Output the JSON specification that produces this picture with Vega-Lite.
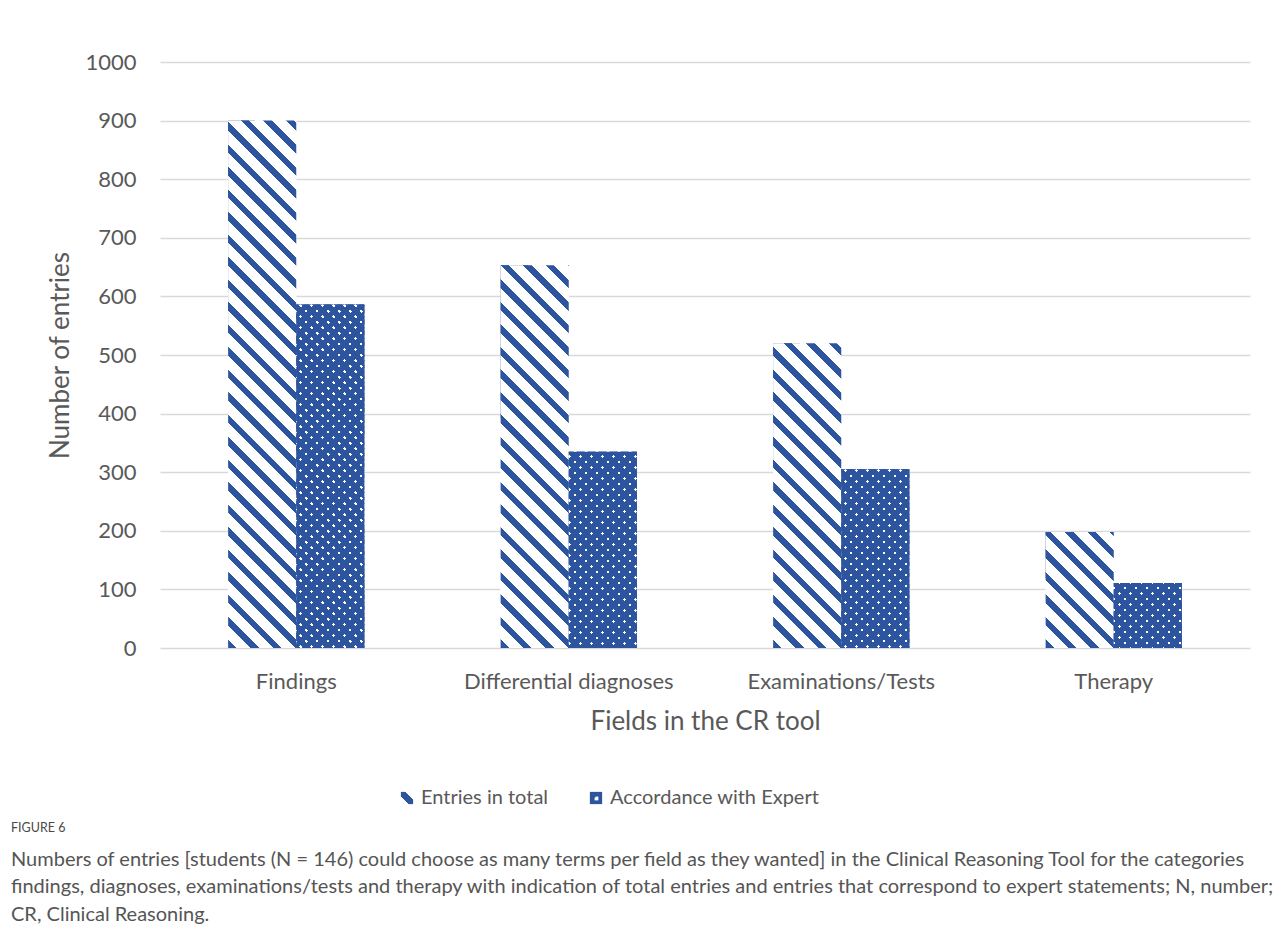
{
  "$schema": "https://vega.github.io/schema/vega-lite/v6.json",
  "width": 1090,
  "height": 586,
  "autosize": {"type": "none"},
  "padding": {"left": 160, "top": 62, "right": 32, "bottom": 293},
  "background": "white",
  "params": [
    {"name": "legendStripe", "value": {"gradient": "linear", "x1": 0, "y1": 1, "x2": 1, "y2": 0, "stops": [
      {"offset": 0, "color": "#fff"}, {"offset": 0.3, "color": "#fff"},
      {"offset": 0.3, "color": "#2d559f"}, {"offset": 0.7, "color": "#2d559f"},
      {"offset": 0.7, "color": "#fff"}, {"offset": 1, "color": "#fff"}
    ]}},
    {"name": "legendDot", "value": {"gradient": "radial", "x1": 0.55, "y1": 0.55, "x2": 0.55, "y2": 0.55, "r1": 0, "r2": 0.5, "stops": [
      {"offset": 0, "color": "#fff"}, {"offset": 0.35, "color": "#fff"},
      {"offset": 0.35, "color": "#2d559f"}, {"offset": 1, "color": "#2d559f"}
    ]}},
    {"name": "stripeStops", "value": [
      {"offset":0,"color":"#2d559f"},{"offset":0.0141,"color":"#2d559f"},{"offset":0.0141,"color":"#fff"},{"offset":0.037,"color":"#fff"},
      {"offset":0.037,"color":"#2d559f"},{"offset":0.0511,"color":"#2d559f"},{"offset":0.0511,"color":"#fff"},{"offset":0.0741,"color":"#fff"},
      {"offset":0.0741,"color":"#2d559f"},{"offset":0.0881,"color":"#2d559f"},{"offset":0.0881,"color":"#fff"},{"offset":0.1111,"color":"#fff"},
      {"offset":0.1111,"color":"#2d559f"},{"offset":0.1252,"color":"#2d559f"},{"offset":0.1252,"color":"#fff"},{"offset":0.1481,"color":"#fff"},
      {"offset":0.1481,"color":"#2d559f"},{"offset":0.1622,"color":"#2d559f"},{"offset":0.1622,"color":"#fff"},{"offset":0.1852,"color":"#fff"},
      {"offset":0.1852,"color":"#2d559f"},{"offset":0.1993,"color":"#2d559f"},{"offset":0.1993,"color":"#fff"},{"offset":0.2222,"color":"#fff"},
      {"offset":0.2222,"color":"#2d559f"},{"offset":0.2363,"color":"#2d559f"},{"offset":0.2363,"color":"#fff"},{"offset":0.2593,"color":"#fff"},
      {"offset":0.2593,"color":"#2d559f"},{"offset":0.2733,"color":"#2d559f"},{"offset":0.2733,"color":"#fff"},{"offset":0.2963,"color":"#fff"},
      {"offset":0.2963,"color":"#2d559f"},{"offset":0.3104,"color":"#2d559f"},{"offset":0.3104,"color":"#fff"},{"offset":0.3333,"color":"#fff"},
      {"offset":0.3333,"color":"#2d559f"},{"offset":0.3474,"color":"#2d559f"},{"offset":0.3474,"color":"#fff"},{"offset":0.3704,"color":"#fff"},
      {"offset":0.3704,"color":"#2d559f"},{"offset":0.3844,"color":"#2d559f"},{"offset":0.3844,"color":"#fff"},{"offset":0.4074,"color":"#fff"},
      {"offset":0.4074,"color":"#2d559f"},{"offset":0.4215,"color":"#2d559f"},{"offset":0.4215,"color":"#fff"},{"offset":0.4444,"color":"#fff"},
      {"offset":0.4444,"color":"#2d559f"},{"offset":0.4585,"color":"#2d559f"},{"offset":0.4585,"color":"#fff"},{"offset":0.4815,"color":"#fff"},
      {"offset":0.4815,"color":"#2d559f"},{"offset":0.4956,"color":"#2d559f"},{"offset":0.4956,"color":"#fff"},{"offset":0.5185,"color":"#fff"},
      {"offset":0.5185,"color":"#2d559f"},{"offset":0.5326,"color":"#2d559f"},{"offset":0.5326,"color":"#fff"},{"offset":0.5556,"color":"#fff"},
      {"offset":0.5556,"color":"#2d559f"},{"offset":0.5696,"color":"#2d559f"},{"offset":0.5696,"color":"#fff"},{"offset":0.5926,"color":"#fff"},
      {"offset":0.5926,"color":"#2d559f"},{"offset":0.6067,"color":"#2d559f"},{"offset":0.6067,"color":"#fff"},{"offset":0.6296,"color":"#fff"},
      {"offset":0.6296,"color":"#2d559f"},{"offset":0.6437,"color":"#2d559f"},{"offset":0.6437,"color":"#fff"},{"offset":0.6667,"color":"#fff"},
      {"offset":0.6667,"color":"#2d559f"},{"offset":0.6807,"color":"#2d559f"},{"offset":0.6807,"color":"#fff"},{"offset":0.7037,"color":"#fff"},
      {"offset":0.7037,"color":"#2d559f"},{"offset":0.7178,"color":"#2d559f"},{"offset":0.7178,"color":"#fff"},{"offset":0.7407,"color":"#fff"},
      {"offset":0.7407,"color":"#2d559f"},{"offset":0.7548,"color":"#2d559f"},{"offset":0.7548,"color":"#fff"},{"offset":0.7778,"color":"#fff"},
      {"offset":0.7778,"color":"#2d559f"},{"offset":0.7919,"color":"#2d559f"},{"offset":0.7919,"color":"#fff"},{"offset":0.8148,"color":"#fff"},
      {"offset":0.8148,"color":"#2d559f"},{"offset":0.8289,"color":"#2d559f"},{"offset":0.8289,"color":"#fff"},{"offset":0.8519,"color":"#fff"},
      {"offset":0.8519,"color":"#2d559f"},{"offset":0.8659,"color":"#2d559f"},{"offset":0.8659,"color":"#fff"},{"offset":0.8889,"color":"#fff"},
      {"offset":0.8889,"color":"#2d559f"},{"offset":0.903,"color":"#2d559f"},{"offset":0.903,"color":"#fff"},{"offset":0.9259,"color":"#fff"},
      {"offset":0.9259,"color":"#2d559f"},{"offset":0.94,"color":"#2d559f"},{"offset":0.94,"color":"#fff"},{"offset":0.963,"color":"#fff"},
      {"offset":0.963,"color":"#2d559f"},{"offset":0.977,"color":"#2d559f"},{"offset":0.977,"color":"#fff"},{"offset":1,"color":"#fff"}
    ]},
    {"name": "dotWhite", "value": [
      {"offset":0.0092,"color":"#2d559f"},{"offset":0.0092,"color":"#fff"},{"offset":0.0171,"color":"#fff"},{"offset":0.0171,"color":"#2d559f"},
      {"offset":0.0355,"color":"#2d559f"},{"offset":0.0355,"color":"#fff"},{"offset":0.0434,"color":"#fff"},{"offset":0.0434,"color":"#2d559f"},
      {"offset":0.0618,"color":"#2d559f"},{"offset":0.0618,"color":"#fff"},{"offset":0.0697,"color":"#fff"},{"offset":0.0697,"color":"#2d559f"},
      {"offset":0.0882,"color":"#2d559f"},{"offset":0.0882,"color":"#fff"},{"offset":0.0961,"color":"#fff"},{"offset":0.0961,"color":"#2d559f"},
      {"offset":0.1145,"color":"#2d559f"},{"offset":0.1145,"color":"#fff"},{"offset":0.1224,"color":"#fff"},{"offset":0.1224,"color":"#2d559f"},
      {"offset":0.1408,"color":"#2d559f"},{"offset":0.1408,"color":"#fff"},{"offset":0.1487,"color":"#fff"},{"offset":0.1487,"color":"#2d559f"},
      {"offset":0.1671,"color":"#2d559f"},{"offset":0.1671,"color":"#fff"},{"offset":0.175,"color":"#fff"},{"offset":0.175,"color":"#2d559f"},
      {"offset":0.1934,"color":"#2d559f"},{"offset":0.1934,"color":"#fff"},{"offset":0.2013,"color":"#fff"},{"offset":0.2013,"color":"#2d559f"},
      {"offset":0.2197,"color":"#2d559f"},{"offset":0.2197,"color":"#fff"},{"offset":0.2276,"color":"#fff"},{"offset":0.2276,"color":"#2d559f"},
      {"offset":0.2461,"color":"#2d559f"},{"offset":0.2461,"color":"#fff"},{"offset":0.2539,"color":"#fff"},{"offset":0.2539,"color":"#2d559f"},
      {"offset":0.2724,"color":"#2d559f"},{"offset":0.2724,"color":"#fff"},{"offset":0.2803,"color":"#fff"},{"offset":0.2803,"color":"#2d559f"},
      {"offset":0.2987,"color":"#2d559f"},{"offset":0.2987,"color":"#fff"},{"offset":0.3066,"color":"#fff"},{"offset":0.3066,"color":"#2d559f"},
      {"offset":0.325,"color":"#2d559f"},{"offset":0.325,"color":"#fff"},{"offset":0.3329,"color":"#fff"},{"offset":0.3329,"color":"#2d559f"},
      {"offset":0.3513,"color":"#2d559f"},{"offset":0.3513,"color":"#fff"},{"offset":0.3592,"color":"#fff"},{"offset":0.3592,"color":"#2d559f"},
      {"offset":0.3776,"color":"#2d559f"},{"offset":0.3776,"color":"#fff"},{"offset":0.3855,"color":"#fff"},{"offset":0.3855,"color":"#2d559f"},
      {"offset":0.4039,"color":"#2d559f"},{"offset":0.4039,"color":"#fff"},{"offset":0.4118,"color":"#fff"},{"offset":0.4118,"color":"#2d559f"},
      {"offset":0.4303,"color":"#2d559f"},{"offset":0.4303,"color":"#fff"},{"offset":0.4382,"color":"#fff"},{"offset":0.4382,"color":"#2d559f"},
      {"offset":0.4566,"color":"#2d559f"},{"offset":0.4566,"color":"#fff"},{"offset":0.4645,"color":"#fff"},{"offset":0.4645,"color":"#2d559f"},
      {"offset":0.4829,"color":"#2d559f"},{"offset":0.4829,"color":"#fff"},{"offset":0.4908,"color":"#fff"},{"offset":0.4908,"color":"#2d559f"},
      {"offset":0.5092,"color":"#2d559f"},{"offset":0.5092,"color":"#fff"},{"offset":0.5171,"color":"#fff"},{"offset":0.5171,"color":"#2d559f"},
      {"offset":0.5355,"color":"#2d559f"},{"offset":0.5355,"color":"#fff"},{"offset":0.5434,"color":"#fff"},{"offset":0.5434,"color":"#2d559f"},
      {"offset":0.5618,"color":"#2d559f"},{"offset":0.5618,"color":"#fff"},{"offset":0.5697,"color":"#fff"},{"offset":0.5697,"color":"#2d559f"},
      {"offset":0.5882,"color":"#2d559f"},{"offset":0.5882,"color":"#fff"},{"offset":0.5961,"color":"#fff"},{"offset":0.5961,"color":"#2d559f"},
      {"offset":0.6145,"color":"#2d559f"},{"offset":0.6145,"color":"#fff"},{"offset":0.6224,"color":"#fff"},{"offset":0.6224,"color":"#2d559f"},
      {"offset":0.6408,"color":"#2d559f"},{"offset":0.6408,"color":"#fff"},{"offset":0.6487,"color":"#fff"},{"offset":0.6487,"color":"#2d559f"},
      {"offset":0.6671,"color":"#2d559f"},{"offset":0.6671,"color":"#fff"},{"offset":0.675,"color":"#fff"},{"offset":0.675,"color":"#2d559f"},
      {"offset":0.6934,"color":"#2d559f"},{"offset":0.6934,"color":"#fff"},{"offset":0.7013,"color":"#fff"},{"offset":0.7013,"color":"#2d559f"},
      {"offset":0.7197,"color":"#2d559f"},{"offset":0.7197,"color":"#fff"},{"offset":0.7276,"color":"#fff"},{"offset":0.7276,"color":"#2d559f"},
      {"offset":0.7461,"color":"#2d559f"},{"offset":0.7461,"color":"#fff"},{"offset":0.7539,"color":"#fff"},{"offset":0.7539,"color":"#2d559f"},
      {"offset":0.7724,"color":"#2d559f"},{"offset":0.7724,"color":"#fff"},{"offset":0.7803,"color":"#fff"},{"offset":0.7803,"color":"#2d559f"},
      {"offset":0.7987,"color":"#2d559f"},{"offset":0.7987,"color":"#fff"},{"offset":0.8066,"color":"#fff"},{"offset":0.8066,"color":"#2d559f"},
      {"offset":0.825,"color":"#2d559f"},{"offset":0.825,"color":"#fff"},{"offset":0.8329,"color":"#fff"},{"offset":0.8329,"color":"#2d559f"},
      {"offset":0.8513,"color":"#2d559f"},{"offset":0.8513,"color":"#fff"},{"offset":0.8592,"color":"#fff"},{"offset":0.8592,"color":"#2d559f"},
      {"offset":0.8776,"color":"#2d559f"},{"offset":0.8776,"color":"#fff"},{"offset":0.8855,"color":"#fff"},{"offset":0.8855,"color":"#2d559f"},
      {"offset":0.9039,"color":"#2d559f"},{"offset":0.9039,"color":"#fff"},{"offset":0.9118,"color":"#fff"},{"offset":0.9118,"color":"#2d559f"},
      {"offset":0.9303,"color":"#2d559f"},{"offset":0.9303,"color":"#fff"},{"offset":0.9382,"color":"#fff"},{"offset":0.9382,"color":"#2d559f"},
      {"offset":0.9566,"color":"#2d559f"},{"offset":0.9566,"color":"#fff"},{"offset":0.9645,"color":"#fff"},{"offset":0.9645,"color":"#2d559f"},
      {"offset":0.9829,"color":"#2d559f"},{"offset":0.9829,"color":"#fff"},{"offset":0.9908,"color":"#fff"},{"offset":0.9908,"color":"#2d559f"}
    ]},
    {"name": "dotClear", "value": [
      {"offset":0.0092,"color":"#2d559f"},{"offset":0.0092,"color":"rgba(45,85,159,0)"},{"offset":0.0171,"color":"rgba(45,85,159,0)"},{"offset":0.0171,"color":"#2d559f"},
      {"offset":0.0355,"color":"#2d559f"},{"offset":0.0355,"color":"rgba(45,85,159,0)"},{"offset":0.0434,"color":"rgba(45,85,159,0)"},{"offset":0.0434,"color":"#2d559f"},
      {"offset":0.0618,"color":"#2d559f"},{"offset":0.0618,"color":"rgba(45,85,159,0)"},{"offset":0.0697,"color":"rgba(45,85,159,0)"},{"offset":0.0697,"color":"#2d559f"},
      {"offset":0.0882,"color":"#2d559f"},{"offset":0.0882,"color":"rgba(45,85,159,0)"},{"offset":0.0961,"color":"rgba(45,85,159,0)"},{"offset":0.0961,"color":"#2d559f"},
      {"offset":0.1145,"color":"#2d559f"},{"offset":0.1145,"color":"rgba(45,85,159,0)"},{"offset":0.1224,"color":"rgba(45,85,159,0)"},{"offset":0.1224,"color":"#2d559f"},
      {"offset":0.1408,"color":"#2d559f"},{"offset":0.1408,"color":"rgba(45,85,159,0)"},{"offset":0.1487,"color":"rgba(45,85,159,0)"},{"offset":0.1487,"color":"#2d559f"},
      {"offset":0.1671,"color":"#2d559f"},{"offset":0.1671,"color":"rgba(45,85,159,0)"},{"offset":0.175,"color":"rgba(45,85,159,0)"},{"offset":0.175,"color":"#2d559f"},
      {"offset":0.1934,"color":"#2d559f"},{"offset":0.1934,"color":"rgba(45,85,159,0)"},{"offset":0.2013,"color":"rgba(45,85,159,0)"},{"offset":0.2013,"color":"#2d559f"},
      {"offset":0.2197,"color":"#2d559f"},{"offset":0.2197,"color":"rgba(45,85,159,0)"},{"offset":0.2276,"color":"rgba(45,85,159,0)"},{"offset":0.2276,"color":"#2d559f"},
      {"offset":0.2461,"color":"#2d559f"},{"offset":0.2461,"color":"rgba(45,85,159,0)"},{"offset":0.2539,"color":"rgba(45,85,159,0)"},{"offset":0.2539,"color":"#2d559f"},
      {"offset":0.2724,"color":"#2d559f"},{"offset":0.2724,"color":"rgba(45,85,159,0)"},{"offset":0.2803,"color":"rgba(45,85,159,0)"},{"offset":0.2803,"color":"#2d559f"},
      {"offset":0.2987,"color":"#2d559f"},{"offset":0.2987,"color":"rgba(45,85,159,0)"},{"offset":0.3066,"color":"rgba(45,85,159,0)"},{"offset":0.3066,"color":"#2d559f"},
      {"offset":0.325,"color":"#2d559f"},{"offset":0.325,"color":"rgba(45,85,159,0)"},{"offset":0.3329,"color":"rgba(45,85,159,0)"},{"offset":0.3329,"color":"#2d559f"},
      {"offset":0.3513,"color":"#2d559f"},{"offset":0.3513,"color":"rgba(45,85,159,0)"},{"offset":0.3592,"color":"rgba(45,85,159,0)"},{"offset":0.3592,"color":"#2d559f"},
      {"offset":0.3776,"color":"#2d559f"},{"offset":0.3776,"color":"rgba(45,85,159,0)"},{"offset":0.3855,"color":"rgba(45,85,159,0)"},{"offset":0.3855,"color":"#2d559f"},
      {"offset":0.4039,"color":"#2d559f"},{"offset":0.4039,"color":"rgba(45,85,159,0)"},{"offset":0.4118,"color":"rgba(45,85,159,0)"},{"offset":0.4118,"color":"#2d559f"},
      {"offset":0.4303,"color":"#2d559f"},{"offset":0.4303,"color":"rgba(45,85,159,0)"},{"offset":0.4382,"color":"rgba(45,85,159,0)"},{"offset":0.4382,"color":"#2d559f"},
      {"offset":0.4566,"color":"#2d559f"},{"offset":0.4566,"color":"rgba(45,85,159,0)"},{"offset":0.4645,"color":"rgba(45,85,159,0)"},{"offset":0.4645,"color":"#2d559f"},
      {"offset":0.4829,"color":"#2d559f"},{"offset":0.4829,"color":"rgba(45,85,159,0)"},{"offset":0.4908,"color":"rgba(45,85,159,0)"},{"offset":0.4908,"color":"#2d559f"},
      {"offset":0.5092,"color":"#2d559f"},{"offset":0.5092,"color":"rgba(45,85,159,0)"},{"offset":0.5171,"color":"rgba(45,85,159,0)"},{"offset":0.5171,"color":"#2d559f"},
      {"offset":0.5355,"color":"#2d559f"},{"offset":0.5355,"color":"rgba(45,85,159,0)"},{"offset":0.5434,"color":"rgba(45,85,159,0)"},{"offset":0.5434,"color":"#2d559f"},
      {"offset":0.5618,"color":"#2d559f"},{"offset":0.5618,"color":"rgba(45,85,159,0)"},{"offset":0.5697,"color":"rgba(45,85,159,0)"},{"offset":0.5697,"color":"#2d559f"},
      {"offset":0.5882,"color":"#2d559f"},{"offset":0.5882,"color":"rgba(45,85,159,0)"},{"offset":0.5961,"color":"rgba(45,85,159,0)"},{"offset":0.5961,"color":"#2d559f"},
      {"offset":0.6145,"color":"#2d559f"},{"offset":0.6145,"color":"rgba(45,85,159,0)"},{"offset":0.6224,"color":"rgba(45,85,159,0)"},{"offset":0.6224,"color":"#2d559f"},
      {"offset":0.6408,"color":"#2d559f"},{"offset":0.6408,"color":"rgba(45,85,159,0)"},{"offset":0.6487,"color":"rgba(45,85,159,0)"},{"offset":0.6487,"color":"#2d559f"},
      {"offset":0.6671,"color":"#2d559f"},{"offset":0.6671,"color":"rgba(45,85,159,0)"},{"offset":0.675,"color":"rgba(45,85,159,0)"},{"offset":0.675,"color":"#2d559f"},
      {"offset":0.6934,"color":"#2d559f"},{"offset":0.6934,"color":"rgba(45,85,159,0)"},{"offset":0.7013,"color":"rgba(45,85,159,0)"},{"offset":0.7013,"color":"#2d559f"},
      {"offset":0.7197,"color":"#2d559f"},{"offset":0.7197,"color":"rgba(45,85,159,0)"},{"offset":0.7276,"color":"rgba(45,85,159,0)"},{"offset":0.7276,"color":"#2d559f"},
      {"offset":0.7461,"color":"#2d559f"},{"offset":0.7461,"color":"rgba(45,85,159,0)"},{"offset":0.7539,"color":"rgba(45,85,159,0)"},{"offset":0.7539,"color":"#2d559f"},
      {"offset":0.7724,"color":"#2d559f"},{"offset":0.7724,"color":"rgba(45,85,159,0)"},{"offset":0.7803,"color":"rgba(45,85,159,0)"},{"offset":0.7803,"color":"#2d559f"},
      {"offset":0.7987,"color":"#2d559f"},{"offset":0.7987,"color":"rgba(45,85,159,0)"},{"offset":0.8066,"color":"rgba(45,85,159,0)"},{"offset":0.8066,"color":"#2d559f"},
      {"offset":0.825,"color":"#2d559f"},{"offset":0.825,"color":"rgba(45,85,159,0)"},{"offset":0.8329,"color":"rgba(45,85,159,0)"},{"offset":0.8329,"color":"#2d559f"},
      {"offset":0.8513,"color":"#2d559f"},{"offset":0.8513,"color":"rgba(45,85,159,0)"},{"offset":0.8592,"color":"rgba(45,85,159,0)"},{"offset":0.8592,"color":"#2d559f"},
      {"offset":0.8776,"color":"#2d559f"},{"offset":0.8776,"color":"rgba(45,85,159,0)"},{"offset":0.8855,"color":"rgba(45,85,159,0)"},{"offset":0.8855,"color":"#2d559f"},
      {"offset":0.9039,"color":"#2d559f"},{"offset":0.9039,"color":"rgba(45,85,159,0)"},{"offset":0.9118,"color":"rgba(45,85,159,0)"},{"offset":0.9118,"color":"#2d559f"},
      {"offset":0.9303,"color":"#2d559f"},{"offset":0.9303,"color":"rgba(45,85,159,0)"},{"offset":0.9382,"color":"rgba(45,85,159,0)"},{"offset":0.9382,"color":"#2d559f"},
      {"offset":0.9566,"color":"#2d559f"},{"offset":0.9566,"color":"rgba(45,85,159,0)"},{"offset":0.9645,"color":"rgba(45,85,159,0)"},{"offset":0.9645,"color":"#2d559f"},
      {"offset":0.9829,"color":"#2d559f"},{"offset":0.9829,"color":"rgba(45,85,159,0)"},{"offset":0.9908,"color":"rgba(45,85,159,0)"},{"offset":0.9908,"color":"#2d559f"}
    ]}
  ],
  "data": {"values": [
    {"field": "Findings", "series": "Entries in total", "count": 900},
    {"field": "Findings", "series": "Accordance with Expert", "count": 586},
    {"field": "Differential diagnoses", "series": "Entries in total", "count": 653},
    {"field": "Differential diagnoses", "series": "Accordance with Expert", "count": 335},
    {"field": "Examinations/Tests", "series": "Entries in total", "count": 520},
    {"field": "Examinations/Tests", "series": "Accordance with Expert", "count": 305},
    {"field": "Therapy", "series": "Entries in total", "count": 198},
    {"field": "Therapy", "series": "Accordance with Expert", "count": 111}
  ]},
  "encoding": {
    "x": {
      "field": "field", "type": "nominal",
      "sort": ["Findings", "Differential diagnoses", "Examinations/Tests", "Therapy"],
      "scale": {"paddingInner": 0.5, "paddingOuter": 0.25},
      "axis": {
        "title": "Fields in the CR tool", "labelAngle": 0, "domain": false, "ticks": false,
        "labelPadding": 23, "labelLimit": 0, "labelFont": "Lato", "labelFontSize": 22, "labelColor": "#595959",
        "titleFont": "Lato", "titleFontSize": 26, "titleFontWeight": "normal", "titleColor": "#595959",
        "titlePadding": 16
      }
    },
    "xOffset": {"field": "series", "type": "nominal", "sort": ["Entries in total", "Accordance with Expert"]},
    "y": {
      "field": "count", "type": "quantitative",
      "scale": {"domain": [0, 1000], "nice": false},
      "axis": {
        "title": "Number of entries", "values": [0, 100, 200, 300, 400, 500, 600, 700, 800, 900, 1000],
        "format": "d",
        "grid": true, "gridColor": "#d9d9d9", "gridWidth": 1.5, "domain": false, "ticks": false,
        "labelPadding": 24, "labelFont": "Lato", "labelFontSize": 22, "labelColor": "#595959",
        "titleFont": "Lato", "titleFontSize": 26, "titleFontWeight": "normal", "titleColor": "#595959",
        "titlePadding": 11
      }
    }
  },
  "layer": [
    {
      "mark": {"type": "bar"},
      "encoding": {
        "fill": {
          "field": "series", "type": "nominal",
          "scale": {
            "domain": ["Entries in total", "Accordance with Expert"],
            "range": [{"expr": "legendStripe"}, {"expr": "legendDot"}]
          },
          "legend": {
            "title": null, "orient": "none", "legendX": 237, "legendY": 726,
            "direction": "horizontal", "symbolType": "square", "symbolSize": 150,
            "symbolStrokeWidth": 0, "labelFont": "Lato", "labelFontSize": 20, "labelLimit": 0,
            "labelColor": "#595959", "labelOffset": 4, "columnPadding": 37, "padding": 0
          }
        }
      }
    },
    {
      "transform": [{"filter": "datum.series === 'Entries in total'"}],
      "mark": {"type": "bar", "fill": {"expr": "{gradient:'linear',x1:0,y1:1,x2:bandwidth('xOffset')*607.5/(pow(bandwidth('xOffset'),2)+pow(scale('y',0)-scale('y',datum.count),2)),y2:1-(scale('y',0)-scale('y',datum.count))*607.5/(pow(bandwidth('xOffset'),2)+pow(scale('y',0)-scale('y',datum.count),2)),stops:stripeStops}"}}
    },
    {
      "transform": [{"filter": "datum.series === 'Accordance with Expert'"}],
      "mark": {"type": "bar", "fill": {"expr": "{gradient:'linear',x1:0,y1:1,x2:bandwidth('xOffset')*418/(pow(bandwidth('xOffset'),2)+pow(scale('y',0)-scale('y',datum.count),2)),y2:1-(scale('y',0)-scale('y',datum.count))*418/(pow(bandwidth('xOffset'),2)+pow(scale('y',0)-scale('y',datum.count),2)),stops:dotWhite}"}}
    },
    {
      "transform": [{"filter": "datum.series === 'Accordance with Expert'"}],
      "mark": {"type": "bar", "fill": {"expr": "{gradient:'linear',x1:0,y1:0,x2:bandwidth('xOffset')*418/(pow(bandwidth('xOffset'),2)+pow(scale('y',0)-scale('y',datum.count),2)),y2:(scale('y',0)-scale('y',datum.count))*418/(pow(bandwidth('xOffset'),2)+pow(scale('y',0)-scale('y',datum.count),2)),stops:dotClear}"}}
    }
  ],
  "title": {
    "text": "FIGURE 6",
    "subtitle": [
      "Numbers of entries [students (N = 146) could choose as many terms per field as they wanted] in the Clinical Reasoning Tool for the categories",
      "findings, diagnoses, examinations/tests and therapy with indication of total entries and entries that correspond to expert statements; N, number;",
      "CR, Clinical Reasoning."
    ],
    "orient": "bottom", "anchor": "start", "frame": "group", "dx": -149, "offset": 14,
    "font": "Lato", "fontSize": 12.5, "fontWeight": "normal", "color": "#4a4a4a",
    "subtitleFont": "Lato", "subtitleFontSize": 20, "subtitleColor": "#555555",
    "subtitleLineHeight": 27.5, "subtitlePadding": 15
  },
  "config": {
    "view": {"stroke": null}
  }
}
